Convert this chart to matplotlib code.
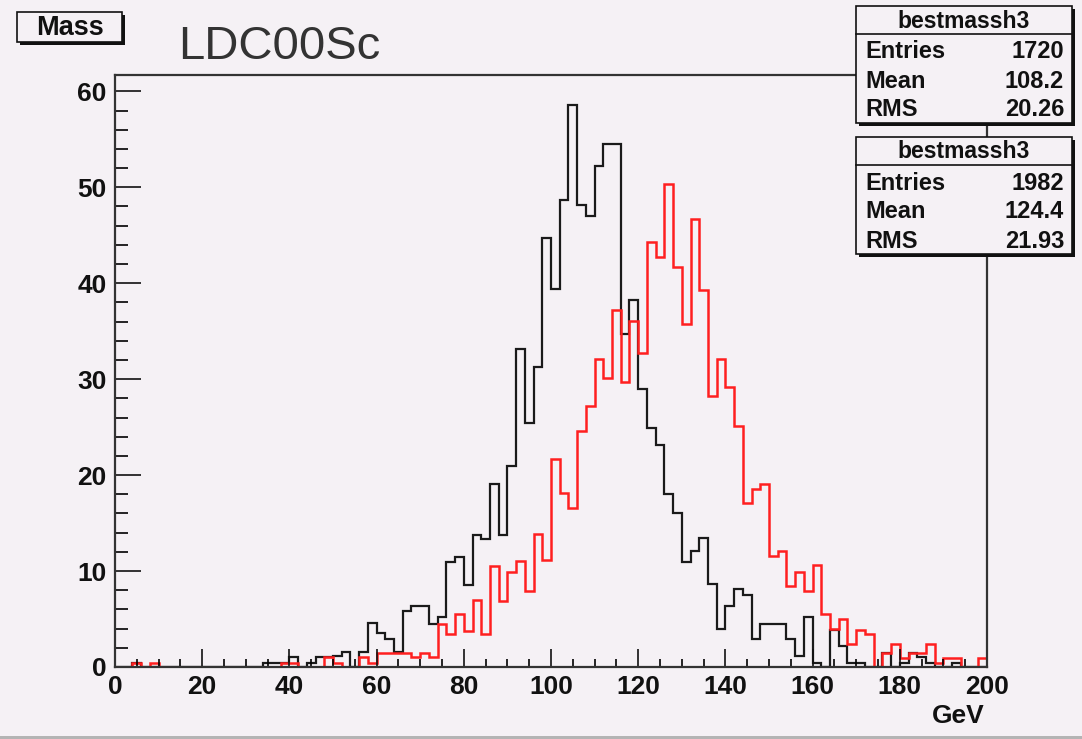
import matplotlib.pyplot as plt
import numpy as np
from matplotlib.patches import Rectangle
from matplotlib.lines import Line2D

plt.rcParams['font.family'] = ['Liberation Sans', 'DejaVu Sans']

# 100 bins of 2 GeV between 0 and 200
edges = np.arange(0, 202, 2)

mass_black = [
    0, 0, 0.45, 0, 0, 0, 0, 0, 0, 0,                      # 0-18
    0, 0, 0, 0, 0, 0, 0, 0.45, 0.45, 0.45,                # 20-38
    1.0, 0, 0.45, 1.0, 1.0, 1.15, 1.56, 0, 1.56, 4.6,     # 40-58
    3.5, 2.9, 1.56, 5.8, 6.35, 6.35, 4.5, 5.2, 10.9, 11.5,  # 60-78
    8.55, 13.8, 13.3, 19.1, 13.8, 20.9, 33.1, 25.4, 31.3, 44.7,  # 80-98
    39.4, 48.7, 58.6, 48.1, 47.0, 52.2, 54.5, 54.5, 34.7, 38.3,  # 100-118
    29.0, 24.9, 23.1, 18.0, 16.1, 10.9, 12.1, 13.4, 8.6, 4.0,    # 120-138
    6.35, 8.1, 7.5, 2.9, 4.5, 4.5, 4.5, 2.9, 1.15, 5.2,          # 140-158
    0.45, 0, 3.9, 2.2, 0.45, 0.45, 0, 0, 1.5, 0,                 # 160-178
    0.45, 1.5, 1.0, 0.45, 0, 0, 0.45, 0, 0, 0,                   # 180-198
]

mass_red = [
    0, 0, 0.45, 0, 0.45, 0, 0, 0, 0, 0,                   # 0-18
    0, 0, 0, 0, 0, 0, 0, 0, 0, 0.45,                      # 20-38
    0.45, 0, 0, 0, 1.0, 0.45, 0, 0, 1.0, 0.45,            # 40-58
    1.46, 1.46, 1.46, 1.46, 1.0, 1.46, 1.0, 4.5, 3.4, 5.5,       # 60-78
    3.8, 6.95, 3.4, 10.5, 6.9, 9.9, 11.0, 7.9, 13.9, 11.1,       # 80-98
    21.7, 18.1, 16.6, 24.6, 27.2, 32.1, 30.1, 37.2, 29.7, 36.1,  # 100-118
    32.7, 44.3, 42.7, 50.3, 41.7, 35.7, 46.7, 39.3, 28.2, 32.1,  # 120-138
    29.2, 25.1, 17.1, 18.5, 19.1, 11.6, 12.1, 8.4, 9.9, 7.9,     # 140-158
    10.6, 5.5, 4.0, 5.0, 2.4, 3.9, 3.4, 0, 1.46, 2.4,            # 160-178
    0.94, 1.46, 1.46, 2.4, 0.42, 0.94, 0.94, 0, 0, 0.94,         # 180-198
]

stat_names = ['Entries', 'Mean', 'RMS']
stats_black = ['1720', '108.2', '20.26']
stats_red = ['1982', '124.4', '21.93']

W, H = 1082, 739
bg = '#f5f1f5'


def fx(x):
    return x / W


def fy(y):
    return 1 - y / H


fig = plt.figure(figsize=(W / 100, H / 100), dpi=100)
fig.patch.set_facecolor(bg)

ax = fig.add_axes([fx(115), fy(667), (987 - 115) / W, (667 - 75) / H])
ax.set_facecolor(bg)

ax.stairs(mass_black, edges, color='#1a1a1a', lw=1.6)
ax.stairs(mass_red, edges, color='#ff1f1f', lw=1.8)

ax.set_xlim(0, 200)
ax.set_ylim(0, 61.7)

for s in ax.spines.values():
    s.set_color('#333333')
    s.set_linewidth(1.6)

ax.set_xticks(np.arange(0, 201, 20))
ax.set_xticks(np.arange(0, 201, 5), minor=True)
ax.set_yticks(np.arange(0, 61, 10))
ax.set_yticks(np.arange(0, 61, 2), minor=True)
ax.tick_params(axis='x', which='major', direction='in', length=13, width=1.2,
               labelsize=19, pad=6, colors='#111111')
ax.tick_params(axis='x', which='minor', direction='in', length=6, width=1.2)
ax.tick_params(axis='y', which='major', direction='in', length=19, width=1.2,
               labelsize=19, pad=6, colors='#111111')
ax.tick_params(axis='y', which='minor', direction='in', length=9.5, width=1.2)
for lab in ax.get_xticklabels() + ax.get_yticklabels():
    lab.set_fontweight('bold')

fig.text(fx(985), fy(716), 'GeV', ha='right', va='center',
         fontsize=19, fontweight='bold', color='#111111')

# title box and canvas name
fig.patches.append(Rectangle((fx(20), fy(45)), (122 - 17) / W, 30 / H,
                             transform=fig.transFigure, facecolor='#111111',
                             edgecolor='none', zorder=5))
fig.patches.append(Rectangle((fx(17), fy(42)), (122 - 17) / W, 30 / H,
                             transform=fig.transFigure, facecolor=bg,
                             edgecolor='#111111', lw=1.2, zorder=6))
fig.text(fx(70), fy(28), 'Mass', ha='center', va='center', fontsize=19.5,
         fontweight='bold', color='#111111', zorder=7)
fig.text(fx(178), fy(47), 'LDC00Sc', ha='left', va='center', fontsize=34,
         color='#333333')


def stat_box(top, title, values):
    left, right = 856, 1072
    bottom = top + 117
    w = (right - left) / W
    h = (bottom - top) / H
    fig.patches.append(Rectangle((fx(left + 3), fy(bottom + 3)), w, h,
                                 transform=fig.transFigure, facecolor='#111111',
                                 edgecolor='none', zorder=5))
    fig.patches.append(Rectangle((fx(left), fy(bottom)), w, h,
                                 transform=fig.transFigure, facecolor=bg,
                                 edgecolor='#111111', lw=1.2, zorder=6))
    fig.lines.append(Line2D([fx(left), fx(right)], [fy(top + 28)] * 2,
                            transform=fig.transFigure, color='#111111',
                            lw=1.2, zorder=7))
    fig.text(fx((left + right) / 2), fy(top + 15), title, ha='center',
             va='center', fontsize=16.5, fontweight='bold', color='#111111',
             zorder=8)
    for i, (name, val) in enumerate(zip(stat_names, values)):
        y = fy(top + 46 + 29 * i)
        fig.text(fx(left + 9), y, name, ha='left', va='center', fontsize=17,
                 fontweight='bold', color='#111111', zorder=8)
        fig.text(fx(right - 8), y, val, ha='right', va='center', fontsize=17,
                 fontweight='bold', color='#111111', zorder=8)


stat_box(6, 'bestmassh3', stats_black)
stat_box(137, 'bestmassh3', stats_red)

# grey strip along the lower edge of the canvas
fig.patches.append(Rectangle((0, 0), 1, 3 / H, transform=fig.transFigure,
                             facecolor='#b4b4b4', edgecolor='none'))

fig.savefig('out.png', dpi=100, facecolor=bg)
